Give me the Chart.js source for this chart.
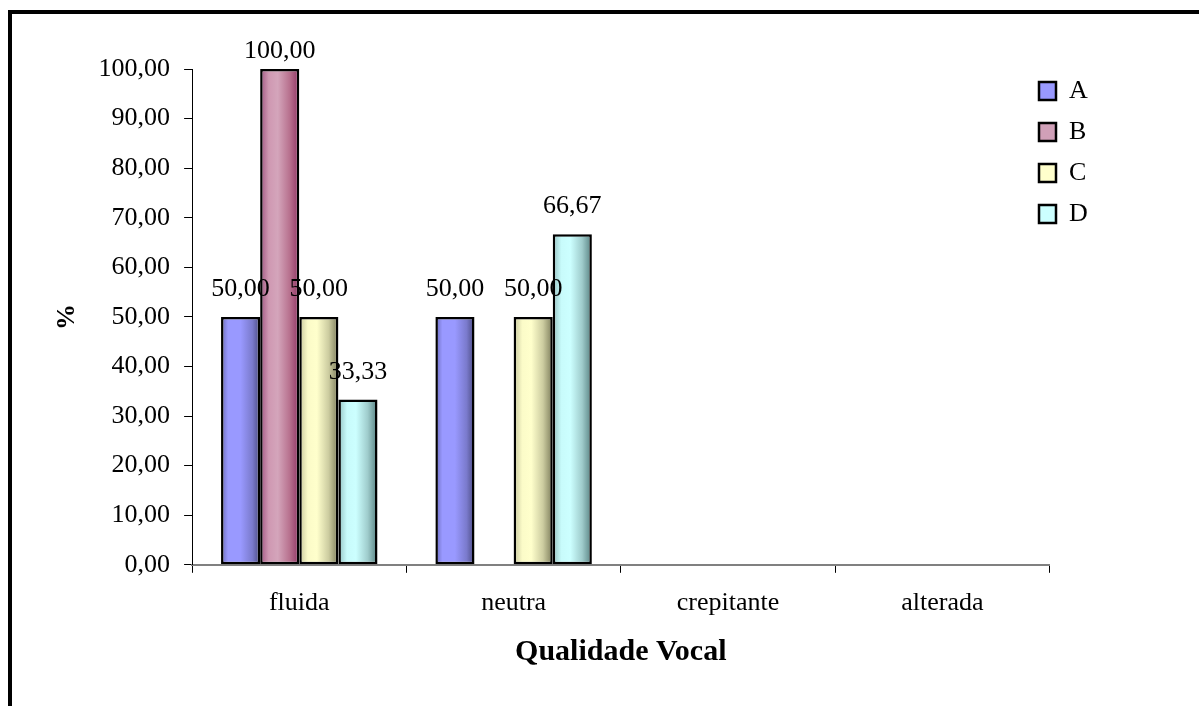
<!DOCTYPE html>
<html lang="pt">
<head>
<meta charset="utf-8">
<title>Qualidade Vocal</title>
<script src="https://cdn.jsdelivr.net/npm/chart.js@4/dist/chart.umd.min.js"></script>
<style>
  html, body { margin: 0; padding: 0; background: #fff; }
  #wrap { position: relative; width: 1199px; height: 706px; overflow: hidden; }
  #frame {
    position: absolute; left: 8px; top: 10px; right: -20px; bottom: -20px;
    border-left: 4px solid #000; border-top: 4px solid #000;
    pointer-events: none;
  }
  canvas { position: absolute; left: 0; top: 0; }
</style>
</head>
<body>
<div id="wrap">
  <div id="frame"></div>
  <canvas id="chart" width="1199" height="706"></canvas>
</div>
<script>
// Categories on the x axis
const categories = ['fluida', 'neutra', 'crepitante', 'alterada'];

// Series (percent per category)
const seriesNames = ['A', 'B', 'C', 'D'];
const valuesA = [50.00, 50.00, 0, 0];
const valuesB = [100.00, 0, 0, 0];
const valuesC = [50.00, 50.00, 0, 0];
const valuesD = [33.33, 66.67, 0, 0];

// Y axis range
const yMin = 0;
const yMax = 100;
const yStep = 10;

const CAT_PCT = 0.73;

// Shaded cylinder-like fills: stops across the bar width
const shades = [
  { flat: '#9999ff', stops: [[0, '#6a6abb'], [0.18, '#9999ff'], [0.5, '#9999ff'], [0.8, '#7a7acc'], [1, '#4a4a80']] },
  { flat: '#d0a0b8', stops: [[0, '#a05582'], [0.22, '#cf98b2'], [0.45, '#d4a5bb'], [0.75, '#b8728f'], [1, '#903565']] },
  { flat: '#ffffcc', stops: [[0, '#c6c69c'], [0.22, '#fbfbc8'], [0.45, '#ffffcc'], [0.75, '#cccca0'], [1, '#7c7c5a']] },
  { flat: '#ccffff', stops: [[0, '#94c2c2'], [0.22, '#c8fbfb'], [0.45, '#ccffff'], [0.75, '#9fcccc'], [1, '#568080']] }
];

const fmt = v => Number(v).toFixed(2).replace('.', ',');

function barFill(ctx) {
  const chart = ctx.chart;
  const ds = ctx.datasetIndex;
  const shade = shades[ds];
  const x = chart.scales && chart.scales.x;
  if (ctx.type !== 'data' || !x || !x.width) return shade.flat;
  const nSeries = chart.data.datasets.length;
  const catW = x.width / categories.length;
  const barW = catW * CAT_PCT / nSeries;
  const left = x.getPixelForValue(ctx.dataIndex) - catW * CAT_PCT / 2 + ds * barW;
  const g = chart.ctx.createLinearGradient(left, 0, left + barW, 0);
  shade.stops.forEach(s => g.addColorStop(s[0], s[1]));
  return g;
}

// Value labels above the bars
const valueLabels = {
  id: 'valueLabels',
  afterDatasetsDraw(chart) {
    const c = chart.ctx;
    c.save();
    c.font = '26px "Liberation Serif"';
    c.fillStyle = '#000';
    c.textAlign = 'center';
    c.textBaseline = 'alphabetic';
    chart.data.datasets.forEach((ds, di) => {
      const meta = chart.getDatasetMeta(di);
      meta.data.forEach((el, i) => {
        const v = ds.data[i];
        if (!v) return;
        const y = Math.max(el.y - 21, chart.chartArea.top - 11);
        c.fillText(fmt(v), el.x, y);
      });
    });
    c.restore();
  }
};

// Place the legend in the upper right corner of the plot
const legendPlacement = {
  id: 'legendPlacement',
  afterLayout(chart) {
    const lg = chart.legend;
    if (!lg) return;
    lg.left = 1024;
    lg.top = 63;
    lg.right = lg.left + 160;
    lg.bottom = lg.top + 400;
    lg.width = 160;
    lg.height = 400;
  }
};

Chart.defaults.font.family = '"Liberation Serif", "Times New Roman", serif';
Chart.defaults.color = '#000';

const datasetValues = [valuesA, valuesB, valuesC, valuesD];

new Chart(document.getElementById('chart'), {
  type: 'bar',
  data: {
    labels: categories,
    datasets: seriesNames.map((name, i) => ({
      label: name,
      data: datasetValues[i],
      backgroundColor: barFill,
      borderColor: '#000',
      borderWidth: 2.5,
      borderSkipped: false,
      categoryPercentage: CAT_PCT,
      barPercentage: 1
    }))
  },
  options: {
    responsive: false,
    animation: false,
    devicePixelRatio: 1,
    layout: { padding: { left: 49.4, top: 69, right: 149.5, bottom: 36 } },
    plugins: {
      tooltip: { enabled: false },
      legend: {
        position: 'chartArea',
        align: 'start',
        labels: {
          font: { size: 26 },
          color: '#000',
          boxWidth: 17,
          boxHeight: 18,
          padding: 15,
          generateLabels(chart) {
            const items = Chart.defaults.plugins.legend.labels.generateLabels(chart);
            return items.map((it, i) => Object.assign(it, {
              fillStyle: shades[i].flat,
              strokeStyle: '#000',
              lineWidth: 2.5
            }));
          }
        }
      }
    },
    scales: {
      x: {
        grid: {
          display: true,
          drawOnChartArea: false,
          drawTicks: true,
          tickLength: 8,
          color: '#000',
          offset: true
        },
        border: { display: true, color: '#808080', width: 2 },
        ticks: { font: { size: 26 }, color: '#000', padding: 15 },
        title: {
          display: true,
          text: 'Qualidade Vocal',
          font: { size: 30, weight: 'bold' },
          color: '#000',
          padding: { top: 0, bottom: 0 }
        }
      },
      y: {
        min: yMin,
        max: yMax,
        grid: {
          display: true,
          drawOnChartArea: false,
          drawTicks: true,
          tickLength: 8,
          color: '#000'
        },
        border: { display: true, color: '#000', width: 1 },
        ticks: {
          stepSize: yStep,
          font: { size: 26 },
          color: '#000',
          padding: 14,
          callback: v => fmt(v)
        },
        title: {
          display: true,
          text: '%',
          font: { size: 26, weight: 'bold' },
          color: '#000',
          padding: { top: 2, bottom: 2 }
        }
      }
    }
  },
  plugins: [valueLabels, legendPlacement]
});
</script>
</body>
</html>
